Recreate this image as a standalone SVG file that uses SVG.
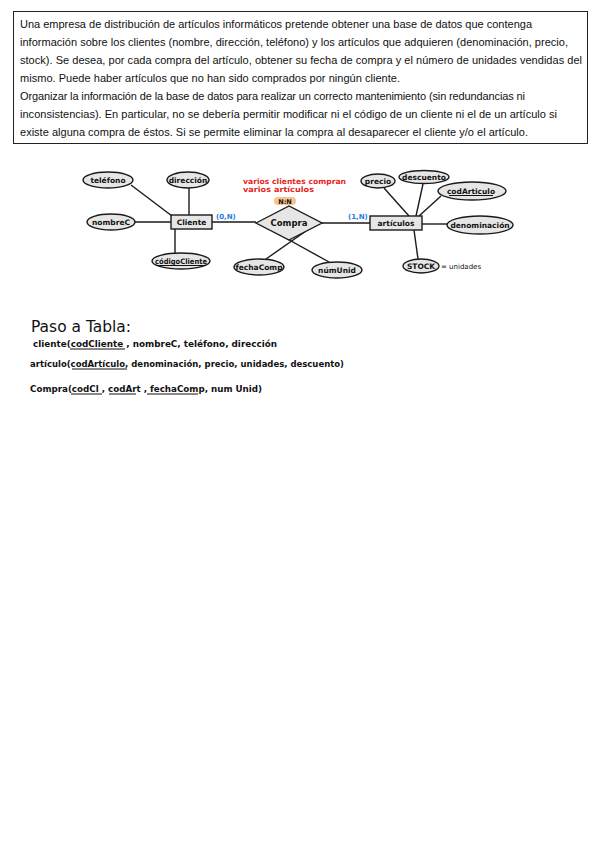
<svg xmlns="http://www.w3.org/2000/svg" width="599" height="848" viewBox="0 0 599 848">
<style>
.bg{fill:#ffffff}
.box{fill:none;stroke:#222;stroke-width:1}
.t{font-family:"Liberation Sans",Arial,sans-serif;font-size:11px;fill:#111}
.sh{fill:#e6e6e6;stroke:#1a1a1a;stroke-width:1.4}
.ln{stroke:#1a1a1a;stroke-width:1.4;fill:none}
.lb{font-family:"DejaVu Sans",sans-serif;font-size:7.5px;font-weight:bold;fill:#111;text-anchor:middle}
.blue{font-family:"DejaVu Sans",sans-serif;font-size:7px;font-weight:bold;fill:#2a7be4}
.red{font-family:"DejaVu Sans",sans-serif;font-size:7.5px;fill:#e8241c;font-weight:bold}
.hw{font-family:"DejaVu Sans",sans-serif;font-size:9px;fill:#111}
.ul{stroke:#111;stroke-width:1}
</style>
<rect class="bg" x="0" y="0" width="599" height="848"/>
<g id="enunciado">
<rect class="box" x="13.5" y="11.5" width="574" height="132"/>
<text class="t" x="20" y="28" textLength="512" lengthAdjust="spacing">Una empresa de distribución de artículos informáticos pretende obtener una base de datos que contenga</text>
<text class="t" x="20" y="46" textLength="548" lengthAdjust="spacing">información sobre los clientes (nombre, dirección, teléfono) y los artículos que adquieren (denominación, precio,</text>
<text class="t" x="20" y="64" textLength="562" lengthAdjust="spacing">stock). Se desea, por cada compra del artículo, obtener su fecha de compra y el número de unidades vendidas del</text>
<text class="t" x="20" y="82" textLength="380" lengthAdjust="spacing">mismo. Puede haber artículos que no han sido comprados por ningún cliente.</text>
<text class="t" x="20" y="100" textLength="505" lengthAdjust="spacing">Organizar la información de la base de datos para realizar un correcto mantenimiento (sin redundancias ni</text>
<text class="t" x="20" y="118" textLength="537" lengthAdjust="spacing">inconsistencias). En particular, no se debería permitir modificar ni el código de un cliente ni el de un artículo si</text>
<text class="t" x="20" y="136" textLength="508" lengthAdjust="spacing">existe alguna compra de éstos. Si se permite eliminar la compra al desaparecer el cliente y/o el artículo.</text>
</g>
<g id="connectors">
<line class="ln" x1="131" y1="185" x2="172" y2="216"/>
<line class="ln" x1="189" y1="188" x2="189" y2="215"/>
<line class="ln" x1="135" y1="222" x2="171" y2="222"/>
<line class="ln" x1="175" y1="229" x2="175" y2="253"/>
<line class="ln" x1="212" y1="222" x2="256" y2="222"/>
<line class="ln" x1="322" y1="223" x2="370" y2="223"/>
<line class="ln" x1="266" y1="259" x2="306" y2="231"/>
<line class="ln" x1="329" y1="262" x2="273" y2="231"/>
<line class="ln" x1="384" y1="188" x2="409" y2="216"/>
<line class="ln" x1="423" y1="184" x2="416" y2="216"/>
<line class="ln" x1="441" y1="196" x2="419" y2="216"/>
<line class="ln" x1="422" y1="224" x2="447" y2="224"/>
<line class="ln" x1="414" y1="230" x2="418" y2="259"/>
</g>
<g id="telefono"><ellipse class="sh" cx="108" cy="180" rx="25" ry="8"/><text class="lb" x="108" y="183">teléfono</text></g>
<g id="direccion"><ellipse class="sh" cx="188" cy="180" rx="21" ry="8"/><text class="lb" x="188" y="183">dirección</text></g>
<g id="nombreC"><ellipse class="sh" cx="111" cy="222" rx="24" ry="8"/><text class="lb" x="111" y="225">nombreC</text></g>
<g id="cliente"><rect class="sh" x="171" y="215" width="41" height="14"/><text class="lb" x="191.5" y="225">Cliente</text></g>
<g id="codigoCliente"><ellipse class="sh" cx="181" cy="261" rx="29" ry="8"/><text class="lb" x="181" y="264" textLength="52" lengthAdjust="spacingAndGlyphs">códigoCliente</text><line class="ul" x1="156" y1="265.5" x2="206" y2="265.5"/></g>
<g id="card1"><text class="blue" x="216" y="219">(0,N)</text></g>
<g id="compra"><polygon class="sh" points="256,223 289,206 322,223 289,240"/><text class="lb" x="289" y="226" style="font-size:8.5px">Compra</text></g>
<g id="nota"><text class="red" x="243" y="184" textLength="103" lengthAdjust="spacingAndGlyphs">varios clientes compran</text><text class="red" x="243" y="192" textLength="71" lengthAdjust="spacingAndGlyphs">varios artículos</text></g>
<g id="nn"><rect x="274" y="197" width="22" height="8" rx="4" fill="#f7c38f"/><text class="lb" x="285" y="203.5" style="font-size:6.5px">N:N</text></g>
<g id="card2"><text class="blue" x="348" y="219">(1,N)</text></g>
<g id="fechaComp"><ellipse class="sh" cx="259" cy="267" rx="25" ry="8"/><text class="lb" x="259" y="270">fechaComp</text></g>
<g id="numUnid"><ellipse class="sh" cx="337" cy="270" rx="25" ry="8"/><text class="lb" x="337" y="273">númUnid</text></g>
<g id="articulos"><rect class="sh" x="370" y="216" width="52" height="14"/><text class="lb" x="396" y="226">artículos</text></g>
<g id="precio"><ellipse class="sh" cx="378" cy="181" rx="17" ry="7"/><text class="lb" x="378" y="184">precio</text></g>
<g id="descuento"><ellipse class="sh" cx="424" cy="177" rx="25" ry="6.5"/><text class="lb" x="424" y="180">descuento</text></g>
<g id="codArticulo"><ellipse class="sh" cx="472" cy="191" rx="34" ry="9"/><text class="lb" x="471" y="194">codArticulo</text><line class="ul" x1="449" y1="195.5" x2="493" y2="195.5"/></g>
<g id="denominacion"><ellipse class="sh" cx="480" cy="225" rx="33" ry="9"/><text class="lb" x="480" y="228">denominación</text></g>
<g id="stock"><ellipse class="sh" cx="421" cy="266" rx="18" ry="7"/><text class="lb" x="421" y="269">STOCK</text><text class="hw" x="441" y="269" style="font-size:7px">= unidades</text></g>
<g id="paso">
<text class="hw" x="31" y="332" style="font-size:15px;font-weight:normal" textLength="100" lengthAdjust="spacingAndGlyphs">Paso a Tabla:</text>
<text class="hw" x="33" y="347" style="font-weight:bold" textLength="244" lengthAdjust="spacingAndGlyphs">cliente(codCliente , nombreC, teléfono, dirección</text>
<line class="ul" x1="70" y1="349" x2="125" y2="349"/>
<text class="hw" x="30" y="367" style="font-weight:bold" textLength="314" lengthAdjust="spacingAndGlyphs">artículo(codArtículo, denominación, precio, unidades, descuento)</text>
<line class="ul" x1="72" y1="369" x2="127" y2="369"/>
<text class="hw" x="30" y="392" style="font-weight:bold" textLength="232" lengthAdjust="spacingAndGlyphs">Compra(codCl , codArt , fechaComp, num Unid)</text>
<line class="ul" x1="71" y1="394" x2="102" y2="394"/>
<line class="ul" x1="109" y1="394" x2="136" y2="394"/>
<line class="ul" x1="147" y1="394" x2="198" y2="394"/>
</g>
</svg>
